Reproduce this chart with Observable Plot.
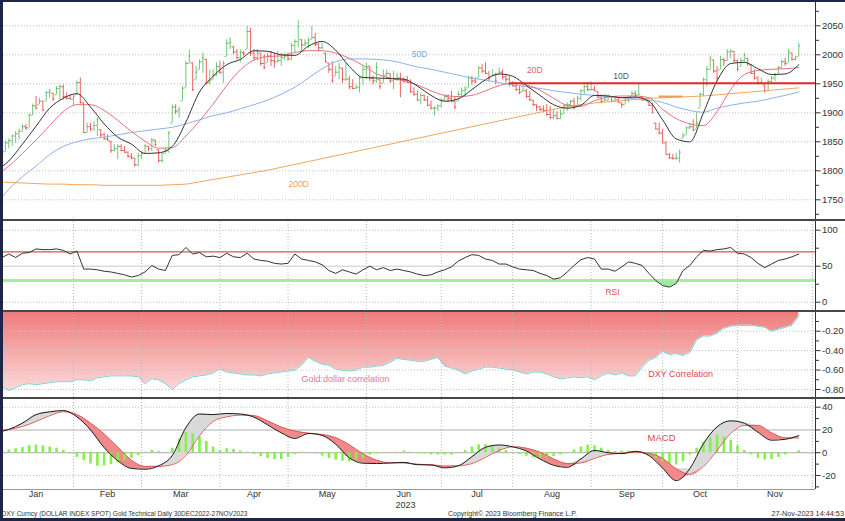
<!DOCTYPE html>
<html><head><meta charset="utf-8">
<script src="https://cdn.jsdelivr.net/npm/d3@7"></script>
<script src="https://cdn.jsdelivr.net/npm/@observablehq/plot@0.6"></script>
<style>
html,body{margin:0;padding:0;background:#fff;}
#chart{position:relative;width:845px;height:521px;overflow:hidden;background:#fff;}
.bar{position:absolute;}
</style></head>
<body><div id="chart"></div>
<script>
// ---------------- DATA ----------------
const startDate = "2022-12-30";
const endDate = "2023-11-27";
const axisEndDate = "2023-12-01";
const monthNames = ["Jan","Feb","Mar","Apr","May","Jun","Jul","Aug","Sep","Oct","Nov"];
const yearLabel = "2023";

// daily gold bars (one per trading day)
const closes = [
1812,1815,1829,1848,1852,1860,1864,1868,1876,1874,
1896,1912,1908,1920,1905,1935,1938,1924,1942,1945,
1928,1925,1924,1928,1952,1918,1866,1876,1872,1878,
1888,1862,1855,1853,1835,1838,1842,1835,1832,1825,
1822,1810,1826,1830,1843,1838,1853,1845,1818,1818,
1834,1865,1910,1903,1906,1942,1985,1998,1940,1970,
1988,1995,1952,1955,1965,1980,1970,1985,2020,2022,
2005,1995,2004,2002,2040,2003,1995,2005,1985,1978,
1998,1990,1988,1990,1995,1998,1993,2016,2023,2048,
2017,2020,2025,2030,2018,2012,2012,1988,1975,1955,
1970,1978,1958,1958,1945,1942,1944,1960,1975,1980,
1960,1955,1978,1945,1965,1968,1955,1958,1960,1958,
1956,1952,1936,1932,1922,1930,1922,1913,1908,1908,
1912,1922,1928,1925,1920,1910,1932,1938,1940,1960,
1955,1953,1977,1972,1968,1960,1965,1955,1970,1962,
1958,1950,1946,1940,1935,1938,1928,1922,1914,1910,
1906,1904,1897,1892,1895,1890,1898,1912,1914,1920,
1912,1925,1938,1945,1940,1940,1938,1927,1920,1922,
1928,1920,1922,1918,1914,1922,1925,1933,1930,1932,
1922,1922,1913,1900,1872,1865,1848,1828,1822,1821,
1822,1832,1860,1874,1876,1870,1882,1932,1957,1975,
1995,1972,1960,1992,1990,2005,2006,1990,1975,1990,
2000,1985,1968,1960,1952,1953,1938,1954,1960,1965,
1978,1988,1985,2005,1992,1994,2015];
const highs = [
1818,1822,1832,1851,1855,1862,1868,1872,1880,1880,
1898,1915,1928,1925,1920,1937,1940,1934,1945,1948,
1948,1934,1931,1931,1955,1960,1917,1882,1882,1885,
1891,1871,1865,1862,1851,1845,1845,1845,1842,1833,
1830,1822,1830,1833,1845,1842,1856,1853,1836,1830,
1839,1868,1914,1914,1910,1945,1989,2008,1986,1980,
1991,2003,1992,1974,1974,1986,1989,1989,2026,2029,
2014,2009,2009,2006,2049,2046,2009,2009,2003,2000,
2003,2006,2003,2006,2003,2003,2003,2020,2026,2059,
2026,2026,2029,2049,2037,2020,2020,2003,1986,1988,
1980,1986,1977,1986,1963,1957,1948,1963,1980,1986,
1980,1963,1986,1957,1974,1974,1968,1971,1968,1968,
1960,1963,1957,1943,1937,1934,1931,1928,1920,1911,
1914,1925,1931,1931,1937,1928,1937,1943,1945,1963,
1963,1960,1980,1983,1986,1971,1974,1968,1977,1974,
1966,1963,1954,1951,1945,1948,1940,1937,1922,1914,
1911,1912,1914,1911,1905,1902,1905,1914,1917,1922,
1925,1928,1940,1948,1951,1954,1945,1937,1931,1931,
1931,1928,1928,1925,1917,1925,1928,1937,1937,1951,
1928,1925,1920,1917,1882,1882,1871,1851,1830,1828,
1830,1836,1865,1876,1882,1888,1900,1934,1960,1980,
1997,1991,1980,1997,1994,2009,2009,2006,1991,1994,
2003,1994,1983,1974,1963,1960,1948,1957,1963,1968,
1980,1991,1994,2009,2003,1997,2020];
const lows = [
1805,1808,1806,1833,1838,1842,1848,1853,1867,1870,
1874,1895,1905,1914,1902,1920,1925,1920,1931,1922,
1922,1922,1922,1911,1931,1915,1865,1865,1868,1868,
1859,1856,1853,1851,1830,1833,1819,1833,1830,1822,
1819,1807,1807,1819,1830,1833,1833,1842,1813,1813,
1830,1830,1882,1897,1890,1920,1943,1985,1937,1957,
1974,1968,1948,1948,1957,1963,1966,1951,1997,2009,
2000,1991,1986,1997,2009,1997,1989,1989,1980,1974,
1986,1980,1977,1986,1980,1990,1989,1990,2003,2012,
2006,2014,2011,2026,2014,2005,2009,1986,1968,1951,
1963,1957,1951,1954,1940,1940,1940,1934,1948,1957,
1954,1948,1951,1940,1951,1960,1951,1940,1954,1926,
1951,1951,1934,1928,1920,1914,1920,1911,1905,1894,
1902,1908,1920,1917,1917,1905,1920,1928,1928,1943,
1948,1951,1960,1968,1966,1954,1963,1948,1966,1957,
1951,1945,1945,1937,1931,1937,1925,1920,1911,1902,
1902,1900,1894,1888,1888,1888,1888,1897,1902,1911,
1905,1911,1920,1931,1937,1937,1937,1925,1917,1920,
1920,1917,1920,1917,1908,1914,1917,1928,1925,1931,
1920,1920,1911,1899,1871,1862,1848,1828,1820,1819,
1818,1813,1856,1862,1871,1868,1872,1908,1928,1945,
1974,1968,1954,1974,1980,1989,1994,1986,1971,1980,
1986,1980,1966,1957,1948,1951,1934,1937,1951,1954,
1966,1977,1980,1986,1989,1989,1997];

// moving averages, sampled every 4 trading days
const lineStep = 4;
const ma10 = [
1800,1817,1846,1877,1908,1925,1933,1910,1881,1858,
1846,1830,1831,1842,1884,1936,1963,1983,1992,2007,
2006,2000,1999,2015,2023,2008,1980,1961,1960,1959,
1958,1946,1930,1920,1924,1940,1957,1967,1963,1947,
1930,1914,1908,1913,1930,1929,1926,1927,1920,1888,
1855,1850,1900,1955,1985,1987,1976,1966,1967,1983];
const ma20 = [
1792,1808,1830,1853,1878,1902,1914,1914,1904,1887,
1868,1851,1839,1840,1860,1886,1915,1947,1974,1991,
1997,1998,2004,2007,2007,2003,1994,1982,1967,1960,
1955,1948,1938,1930,1928,1930,1938,1947,1951,1948,
1939,1925,1913,1911,1921,1927,1929,1929,1926,1906,
1890,1881,1878,1902,1940,1966,1973,1975,1976,1978];
const ma50 = [
1740,1768,1790,1808,1828,1842,1850,1855,1858,1862,
1866,1869,1872,1875,1881,1888,1895,1900,1907,1914,
1922,1932,1944,1960,1976,1988,1993,1993,1992,1990,
1985,1979,1975,1970,1965,1960,1956,1952,1948,1945,
1942,1938,1935,1932,1930,1928,1926,1924,1922,1918,
1910,1904,1901,1908,1913,1917,1920,1925,1930,1936];
const ma200 = [
1781,1780,1779,1778,1777,1777,1776,1776,1775,1775,
1775,1775,1775,1776,1777,1781,1785,1789,1793,1797,
1801,1806,1811,1816,1821,1826,1831,1836,1841,1846,
1851,1856,1861,1866,1871,1876,1881,1886,1891,1896,
1901,1906,1910,1914,1917,1919,1921,1923,1925,1926,
1927,1928,1929,1931,1933,1935,1937,1939,1941,1943];
const resistanceLevel = 1951, resistanceFromDay = 151;
const pivotLevel = 1928, pivotFromDay = 195, pivotToDay = 202;

// oscillators sampled every 2 trading days
const oscStep = 2;
const rsi14 = [
64,62,67,62,68,69,74,73,73,74,
72,67,71,46,46,45,43,42,40,38,
35,37,42,51,46,44,65,66,76,67,
69,63,64,62,68,63,62,68,60,58,
57,54,53,54,67,60,58,56,52,44,
40,45,42,39,45,50,45,48,44,46,
44,42,39,37,38,42,45,49,57,62,
66,65,60,58,53,53,49,46,45,44,
40,37,32,34,42,51,59,62,60,46,
46,43,49,56,54,51,40,30,23,21,
26,44,51,63,72,71,73,74,76,68,
67,62,54,48,53,58,60,63,67];
const dxyCorr = [
-0.77,-0.77,-0.81,-0.78,-0.75,-0.74,-0.75,-0.74,-0.73,-0.72,
-0.72,-0.72,-0.70,-0.70,-0.71,-0.68,-0.67,-0.66,-0.66,-0.66,
-0.66,-0.67,-0.74,-0.69,-0.70,-0.74,-0.80,-0.74,-0.70,-0.67,
-0.66,-0.65,-0.63,-0.59,-0.62,-0.63,-0.64,-0.65,-0.65,-0.66,
-0.64,-0.63,-0.62,-0.61,-0.60,-0.55,-0.47,-0.51,-0.54,-0.55,
-0.59,-0.60,-0.61,-0.60,-0.57,-0.57,-0.56,-0.55,-0.52,-0.48,
-0.49,-0.50,-0.51,-0.51,-0.49,-0.47,-0.56,-0.58,-0.60,-0.64,
-0.61,-0.59,-0.57,-0.57,-0.58,-0.59,-0.60,-0.62,-0.64,-0.62,
-0.62,-0.64,-0.67,-0.69,-0.68,-0.67,-0.68,-0.67,-0.70,-0.66,
-0.63,-0.65,-0.63,-0.66,-0.66,-0.57,-0.50,-0.47,-0.41,-0.44,
-0.43,-0.45,-0.42,-0.29,-0.25,-0.25,-0.22,-0.17,-0.15,-0.14,
-0.14,-0.14,-0.15,-0.16,-0.20,-0.18,-0.16,-0.14,-0.04];
const macdHist = [
1,1.5,2.5,3.5,4.5,6,6.8,6,5,4,
2,-1,-4,-7,-10,-11.9,-11.5,-10.5,-9,-7,
-5,-2.5,0.5,2,1,0,4,12,17.8,16.5,
14,10,5,2,3.5,3,1.5,0.5,-1.5,-3.5,
-5,-6,-6,-4,-1.5,0.5,0,-1,-3,-5,
-6.5,-7.5,-8,-7,-5,-2,-1,-0.5,0,0.5,
1.5,0.5,-0.5,-1,-2,-2,-2,-2,0,2,
5,7,7,6,4,2,0,-1.5,-3,-4.5,
-5,-4.5,-3.5,-2,0,2.5,5,6.7,6,4,
2,1,1.5,1.5,1,0,-2,-5,-8,-10.5,
-10.8,-8,-2,4,9,13,15.5,14,11,6,
2,-2,-5,-6.4,-6,-4,-2,0,1.7];
// MACD and signal, sampled every 4 trading days
const macdLine = [
17.5,20.5,26,33.5,35.9,37,31.5,20,4.5,-7,
-13.8,-14.5,-11.5,-2.5,22,34,33.5,34.5,34,31.2,
24.5,17.5,12.5,16.9,15.2,7.5,-4.5,-9.2,-9.5,-9,
-8.5,-10.5,-10.8,-13.3,-11.5,-3.5,4.8,6.8,5.2,1.5,
-5.5,-11,-12.8,-5.5,2,0,-0.8,1.2,-2.5,-13.5,
-24.5,-14,8,22.7,28,26,18,11,11.8,15];
const macdSignal = [
18.5,20.5,23,27.5,32.5,36,33.5,26,16.5,5,
-6.5,-12,-12,-10.5,-2.5,15,27.5,31.5,33,32.6,
28,22.5,19,17.2,16,13.2,7,-1,-6.5,-8.9,
-9,-10.2,-10.5,-11.8,-11.5,-9.5,-4,2,5.2,4,
0.5,-5.5,-9.5,-9,-5,-1.5,-0.5,0.5,-0.5,-5,
-14,-19,-12,2,17,24,24,17.5,13,13];

const priceTicks = [1750,1800,1850,1900,1950,2000,2050];
const priceMinor = [1725,1775,1825,1875,1925,1975,2025,2075];
const rsiTicks = [0,50,100], rsiMinor = [25,75];
const rsiUpper = 70, rsiLower = 30;
const corrTicks = [-0.8,-0.6,-0.4,-0.2], corrMinor = [-0.7,-0.5,-0.3,-0.1];
const macdTicks = [-20,0,20,40], macdMinor = [-30,-10,10,30];

const footerLeft = "DXY Curncy (DOLLAR INDEX SPOT) Gold Technical  Daily 30DEC2022-27NOV2023";
const footerMid = "Copyright\u00A9 2023 Bloomberg Finance L.P.";
const footerRight = "27-Nov-2023 14:44:53";

// ---------------- LAYOUT ----------------
const chart = document.getElementById("chart");
const W = 845, FRAME_L = 3, FRAME_R = 815;
const X0 = -5.3, DX = 3.405;            // pixel position of trading day 0 and spacing
const xLo = (FRAME_L - X0) / DX, xHi = (FRAME_R - X0) / DX;
const fontFam = "'Liberation Sans', Arial, sans-serif";
const baseStyle = {fontFamily: fontFam, fontSize: "10px", color: "#333", background: "transparent", overflow: "visible"};

function yDomain(top, bottom, v1, y1, v2, y2) {
  const s = (y2 - y1) / (v2 - v1);
  return [v1 + (bottom - y1) / s, v1 + (top - y1) / s];
}
function place(svg, top) {
  svg.style.position = "absolute"; svg.style.left = "0px"; svg.style.top = top + "px";
  chart.appendChild(svg); return svg;
}
const series = (arr, step) => arr.map((v, k) => ({i: k * step, v}));

// trading calendar
const parse = d3.utcParse("%Y-%m-%d");
const calendar = d3.utcDay.range(parse(startDate), d3.utcDay.offset(parse(axisEndDate), 1))
  .filter(d => d.getUTCDay() % 6 !== 0);
const monthStarts = [];
calendar.forEach((d, k) => { if (k > 0 && d.getUTCMonth() !== calendar[k - 1].getUTCMonth()) monthStarts.push(k); });
const monthMid = monthNames.map((m, j) => (monthStarts[j] + monthStarts[j + 1]) / 2);
const monthLabel = new Map(monthMid.map((p, j) => [p, monthNames[j]]));
const gridDays = monthStarts.slice(1);
const yearPos = (monthStarts[0] + monthStarts[monthStarts.length - 1]) / 2;

const bars = closes.map((c, i) => {
  const prev = i ? closes[i - 1] : c;
  return {i, close: c, high: highs[i], low: lows[i],
    open: Math.min(highs[i], Math.max(lows[i], prev)), up: c >= prev};
});

function rightAxis(ticks, minor, fmt) {
  return [
    Plot.axisY({anchor: "right", ticks: minor, tickSize: 3, tickFormat: () => "", label: null}),
    Plot.axisY({anchor: "right", ticks, tickSize: 4.5, tickPadding: 2, tickFormat: fmt, fontSize: 9.5, label: null}),
    Plot.ruleX([xHi], {stroke: "#333"})
  ];
}
const vGrid = (extra = {}) => Plot.ruleX(gridDays, {stroke: "#b8b8b8", strokeDasharray: "1,2", ...extra});

// ---------------- PRICE PANEL ----------------
const priceDom = yDomain(2, 219, 2000, 54.3, 1750, 199.3);
const GREEN = "#45b649", RED = "#e0302c", BAR_OP = 0.75;
place(Plot.plot({
  width: W, height: 217, marginLeft: FRAME_L, marginRight: W - FRAME_R, marginTop: 0, marginBottom: 0,
  x: {type: "linear", domain: [xLo, xHi], axis: null},
  y: {type: "linear", domain: priceDom},
  style: baseStyle,
  marks: [
    Plot.ruleY(priceTicks, {stroke: "#c4c4c4", strokeDasharray: "1.2,1.8"}),
    Plot.ruleX(bars.filter(d => d.up), {x: "i", y1: "low", y2: "high", stroke: GREEN, strokeOpacity: BAR_OP, clip: true}),
    Plot.ruleX(bars.filter(d => !d.up), {x: "i", y1: "low", y2: "high", stroke: RED, strokeOpacity: BAR_OP, clip: true}),
    Plot.ruleY(bars.filter(d => d.up), {y: "open", x1: d => d.i - 0.5, x2: "i", stroke: GREEN, strokeOpacity: BAR_OP, clip: true}),
    Plot.ruleY(bars.filter(d => d.up), {y: "close", x1: "i", x2: d => d.i + 0.5, stroke: GREEN, strokeOpacity: BAR_OP, clip: true}),
    Plot.ruleY(bars.filter(d => !d.up), {y: "open", x1: d => d.i - 0.5, x2: "i", stroke: RED, strokeOpacity: BAR_OP, clip: true}),
    Plot.ruleY(bars.filter(d => !d.up), {y: "close", x1: "i", x2: d => d.i + 0.5, stroke: RED, strokeOpacity: BAR_OP, clip: true}),
    Plot.line(series(ma200, lineStep), {x: "i", y: "v", stroke: "#f2a55c", strokeWidth: 1, curve: "monotone-x", clip: true}),
    Plot.line(series(ma50, lineStep), {x: "i", y: "v", stroke: "#8cb2ea", strokeWidth: 1, curve: "monotone-x", clip: true}),
    Plot.line(series(ma20, lineStep), {x: "i", y: "v", stroke: "#e8707c", strokeWidth: 1, curve: "monotone-x", clip: true}),
    Plot.line(series(ma10, lineStep), {x: "i", y: "v", stroke: "#333", strokeWidth: 1, curve: "monotone-x", clip: true}),
    Plot.ruleY([resistanceLevel], {x1: resistanceFromDay, x2: xHi, stroke: "#e02828", strokeWidth: 2}),
    Plot.ruleY([pivotLevel], {x1: pivotFromDay, x2: pivotToDay, stroke: "#f0a048", strokeWidth: 2}),
    Plot.text([{i: 124.6, v: 2001.7, t: "50D"}], {x: "i", y: "v", text: "t", fill: "#7aa6e6", fontSize: 8.5}),
    Plot.text([{i: 158.5, v: 1974, t: "20D"}], {x: "i", y: "v", text: "t", fill: "#e86060", fontSize: 8.5}),
    Plot.text([{i: 183.8, v: 1962.5, t: "10D"}], {x: "i", y: "v", text: "t", fill: "#555", fontSize: 8.5}),
    Plot.text([{i: 89.1, v: 1777, t: "200D"}], {x: "i", y: "v", text: "t", fill: "#f0a050", fontSize: 8.5}),
    ...rightAxis(priceTicks, priceMinor, d => String(d))
  ]
}), 2);

// ---------------- RSI PANEL ----------------
const rsiDom = yDomain(221, 310, 100, 229.7, 0, 301.7);
const rsiData = series(rsi14, oscStep);
place(Plot.plot({
  width: W, height: 89, marginLeft: FRAME_L, marginRight: W - FRAME_R, marginTop: 0, marginBottom: 0,
  x: {type: "linear", domain: [xLo, xHi], axis: null},
  y: {type: "linear", domain: rsiDom},
  style: baseStyle,
  marks: [
    Plot.ruleY([0, 100], {stroke: "#c4c4c4", strokeDasharray: "1.2,1.8"}),
    Plot.ruleY([50], {stroke: "#c8c8c8"}),
    vGrid(),
    Plot.areaY(rsiData, {x: "i", y1: rsiLower, y2: d => Math.min(d.v, rsiLower), fill: "#98ea98", clip: true}),
    Plot.ruleY([rsiUpper], {stroke: "#e05050", strokeWidth: 1.2}),
    Plot.ruleY([rsiLower], {stroke: "#a2ee9e", strokeWidth: 3}),
    Plot.line(rsiData, {x: "i", y: "v", stroke: "#333", strokeWidth: 1, clip: true}),
    Plot.text([{i: 181.3, v: 13.5, t: "RSI"}], {x: "i", y: "v", text: "t", fill: "#e05050", fontSize: 8.5}),
    ...rightAxis(rsiTicks, rsiMinor, d => String(d))
  ]
}), 221);

// ---------------- CORRELATION PANEL ----------------
const corrDom = yDomain(312, 397, -0.2, 330.7, -0.8, 389);
const corrData = series(dxyCorr, oscStep);
const corrSvg = place(Plot.plot({
  width: W, height: 85, marginLeft: FRAME_L, marginRight: W - FRAME_R, marginTop: 0, marginBottom: 0,
  x: {type: "linear", domain: [xLo, xHi], axis: null},
  y: {type: "linear", domain: corrDom},
  style: baseStyle,
  marks: [
    Plot.areaY(corrData, {x: "i", y1: corrDom[1], y2: "v", fill: "url(#corrGrad)", clip: true}),
    Plot.ruleY(corrTicks, {stroke: "#c4c4c4", strokeDasharray: "1.2,1.8"}),
    vGrid(),
    Plot.line(corrData, {x: "i", y: "v", stroke: "#7ad2d2", strokeWidth: 1, clip: true}),
    Plot.text([{i: 102.9, v: -0.697, t: "Gold:dollar correlation"}], {x: "i", y: "v", text: "t", fill: "#e8739a", fontSize: 9}),
    Plot.text([{i: 201.3, v: -0.645, t: "DXY Correlation"}], {x: "i", y: "v", text: "t", fill: "#e04848", fontSize: 9}),
    ...rightAxis(corrTicks, corrMinor, d => d.toFixed(2))
  ]
}), 312);
{
  const defs = d3.select(corrSvg).insert("defs", ":first-child");
  const g = defs.append("linearGradient").attr("id", "corrGrad").attr("x1", 0).attr("y1", 0).attr("x2", 0).attr("y2", 1);
  g.append("stop").attr("offset", "0%").attr("stop-color", "#ee7c7c");
  g.append("stop").attr("offset", "100%").attr("stop-color", "#fcd8d8");
}

// ---------------- MACD PANEL ----------------
const macdDom = yDomain(399, 489, 40, 406.7, -20, 475);
const macdTable = macdLine.map((v, k) => ({i: k * lineStep, macd: v, signal: macdSignal[k]}));
place(Plot.plot({
  width: W, height: 122, marginLeft: FRAME_L, marginRight: W - FRAME_R, marginTop: 0, marginBottom: 32,
  x: {type: "linear", domain: [xLo, xHi]},
  y: {type: "linear", domain: macdDom},
  style: baseStyle,
  marks: [
    Plot.ruleY([40, -20], {stroke: "#c4c4c4", strokeDasharray: "1.2,1.8"}),
    Plot.ruleY([20], {stroke: "#d6d6d6", strokeWidth: 2}),
    Plot.ruleY([0], {stroke: "#aaaaaa"}),
    vGrid(),
    Plot.areaY(macdTable, {x: "i", y1: "signal", y2: d => Math.max(d.macd, d.signal), fill: "#d9d9d9", curve: "monotone-x", clip: true}),
    Plot.areaY(macdTable, {x: "i", y1: "signal", y2: d => Math.min(d.macd, d.signal), fill: "#f08a8a", curve: "monotone-x", clip: true}),
    Plot.ruleX(series(macdHist, oscStep), {x: "i", y1: 0, y2: "v", stroke: "#84f04c", strokeWidth: 2.6, clip: true}),
    Plot.line(macdTable, {x: "i", y: "signal", stroke: "#e05a5a", strokeWidth: 1, curve: "monotone-x", clip: true}),
    Plot.line(macdTable, {x: "i", y: "macd", stroke: "#1a1a1a", strokeWidth: 1, curve: "monotone-x", clip: true}),
    Plot.text([{i: 195.7, v: 13.4, t: "MACD"}], {x: "i", y: "v", text: "t", fill: "#e04848", fontSize: 9.5}),
    Plot.ruleY([macdDom[0]], {stroke: "#9a9a9a"}),
    ...rightAxis(macdTicks, macdMinor, d => String(d)),
    Plot.axisX({anchor: "bottom", ticks: monthMid, tickSize: 0, tickPadding: 1, tickFormat: d => monthLabel.get(d), fontSize: 9, label: null}),
    Plot.text([{i: yearPos, t: yearLabel}], {x: "i", text: "t", frameAnchor: "bottom", lineAnchor: "top", dy: 12, fontSize: 9, fill: "#333"})
  ]
}), 399);

// ---------------- SEPARATORS, FRAME, FOOTER ----------------
function addBar(x, y, w, h, color) {
  const d = document.createElement("div");
  d.className = "bar";
  Object.assign(d.style, {left: x + "px", top: y + "px", width: w + "px", height: h + "px", background: color});
  chart.appendChild(d);
}
addBar(0, 218.5, W, 2.7, "#474747");
addBar(0, 309.6, W, 2.8, "#474747");
addBar(0, 396.7, W, 2.6, "#474747");
addBar(0, 0, W, 2, "#1f2547");
addBar(0, 0, 2.5, 521, "#1f2547");
addBar(0, 518.3, W, 2.7, "#1f2547");

const foot = d3.create("svg").attr("width", W).attr("height", 521)
  .style("position", "absolute").style("left", "0px").style("top", "0px")
  .attr("font-family", fontFam).attr("font-size", 7.3).attr("fill", "#333");
foot.append("text").attr("x", 1.5).attr("y", 516.3).attr("textLength", 246).attr("lengthAdjust", "spacingAndGlyphs").text(footerLeft);
foot.append("text").attr("x", 448).attr("y", 516.3).attr("textLength", 129).attr("lengthAdjust", "spacingAndGlyphs").text(footerMid);
foot.append("text").attr("x", 844).attr("y", 516.3).attr("text-anchor", "end").text(footerRight);
chart.appendChild(foot.node());
</script>
</body></html>
